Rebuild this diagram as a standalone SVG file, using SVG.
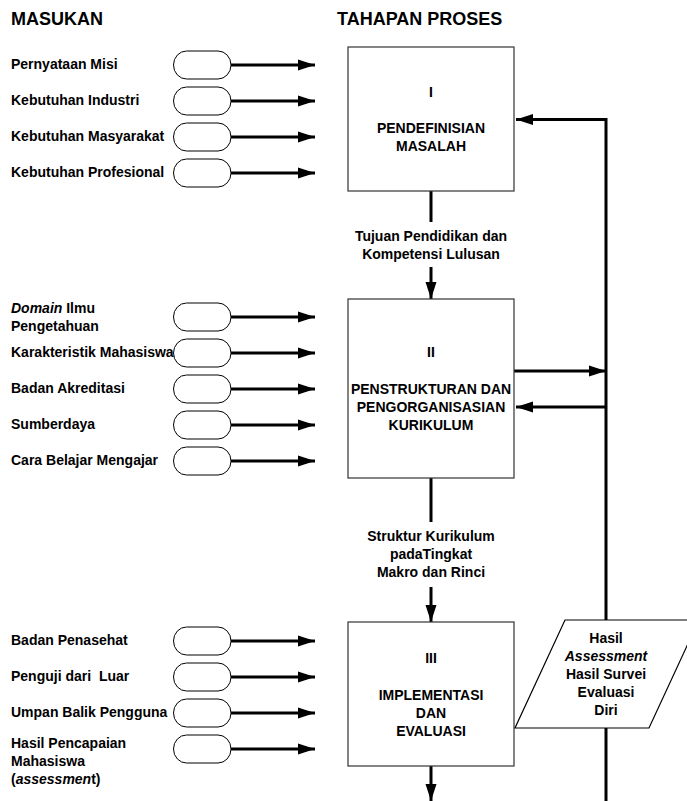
<svg xmlns="http://www.w3.org/2000/svg" width="687" height="801" viewBox="0 0 687 801">
<style>
text{font-family:"Liberation Sans",Arial,sans-serif;font-weight:bold;fill:#000;}
.t{font-size:18px;}
.l{font-size:14px;}
.c{font-size:14px;text-anchor:middle;}
.box{fill:#fff;stroke:#333;stroke-width:1.2;}
.pill{fill:#fff;stroke:#000;stroke-width:1;}
.ln{fill:none;stroke:#000;stroke-width:3;}
.arr{fill:none;stroke:#000;stroke-width:3;marker-end:url(#ah);}
</style>
<defs>
<marker id="ah" markerUnits="userSpaceOnUse" markerWidth="17" markerHeight="12" refX="17" refY="6" orient="auto">
<path d="M0,0.5 L17,6 L0,11.5 z" fill="#000"/>
</marker>
</defs>
<rect width="687" height="801" fill="#fff"/>
<g id="titles">
<text class="t" x="11" y="25">MASUKAN</text>
<text class="t" x="337" y="25">TAHAPAN PROSES</text>
</g>
<g id="connectors">
<line class="arr" x1="231" y1="65" x2="315" y2="65"/>
<line class="arr" x1="231" y1="101" x2="315" y2="101"/>
<line class="arr" x1="231" y1="137" x2="315" y2="137"/>
<line class="arr" x1="231" y1="173" x2="315" y2="173"/>
<line class="arr" x1="231" y1="317" x2="315" y2="317"/>
<line class="arr" x1="231" y1="353" x2="315" y2="353"/>
<line class="arr" x1="231" y1="389" x2="315" y2="389"/>
<line class="arr" x1="231" y1="425" x2="315" y2="425"/>
<line class="arr" x1="231" y1="461" x2="315" y2="461"/>
<line class="arr" x1="231" y1="641" x2="315" y2="641"/>
<line class="arr" x1="231" y1="677" x2="315" y2="677"/>
<line class="arr" x1="231" y1="713" x2="315" y2="713"/>
<line class="arr" x1="231" y1="749" x2="315" y2="749"/>
<line class="ln" x1="431" y1="191" x2="431" y2="222"/>
<line class="arr" x1="431" y1="267" x2="431" y2="299"/>
<line class="ln" x1="431" y1="478" x2="431" y2="522"/>
<line class="arr" x1="431" y1="587" x2="431" y2="622"/>
<line class="arr" x1="431" y1="766" x2="431" y2="801"/>
<polyline class="arr" points="606,620 606,119.5 516,119.5"/>
<line class="ln" x1="606" y1="728" x2="606" y2="801"/>
<line class="arr" x1="514" y1="371" x2="606" y2="371"/>
<line class="arr" x1="606" y1="407" x2="516" y2="407"/>
</g>
<g id="inputs1">
<rect class="pill" x="173.5" y="51" width="57.5" height="28" rx="13" ry="14"/>
<rect class="pill" x="173.5" y="87" width="57.5" height="28" rx="13" ry="14"/>
<rect class="pill" x="173.5" y="123" width="57.5" height="28" rx="13" ry="14"/>
<rect class="pill" x="173.5" y="159" width="57.5" height="28" rx="13" ry="14"/>
<text class="l" x="11" y="69">Pernyataan Misi</text>
<text class="l" x="11" y="105">Kebutuhan Industri</text>
<text class="l" x="11" y="141">Kebutuhan Masyarakat</text>
<text class="l" x="11" y="177">Kebutuhan Profesional</text>
</g>
<g id="inputs2">
<rect class="pill" x="173.5" y="303" width="57.5" height="28" rx="13" ry="14"/>
<rect class="pill" x="173.5" y="339" width="57.5" height="28" rx="13" ry="14"/>
<rect class="pill" x="173.5" y="375" width="57.5" height="28" rx="13" ry="14"/>
<rect class="pill" x="173.5" y="411" width="57.5" height="28" rx="13" ry="14"/>
<rect class="pill" x="173.5" y="447" width="57.5" height="28" rx="13" ry="14"/>
<text class="l" x="11" y="313"><tspan font-style="italic">Domain</tspan> Ilmu</text>
<text class="l" x="11" y="331">Pengetahuan</text>
<text class="l" x="11" y="357">Karakteristik Mahasiswa</text>
<text class="l" x="11" y="393">Badan Akreditasi</text>
<text class="l" x="11" y="429">Sumberdaya</text>
<text class="l" x="11" y="465">Cara Belajar Mengajar</text>
</g>
<g id="inputs3">
<rect class="pill" x="173.5" y="627" width="57.5" height="28" rx="13" ry="14"/>
<rect class="pill" x="173.5" y="663" width="57.5" height="28" rx="13" ry="14"/>
<rect class="pill" x="173.5" y="699" width="57.5" height="28" rx="13" ry="14"/>
<rect class="pill" x="173.5" y="735" width="57.5" height="28" rx="13" ry="14"/>
<text class="l" x="11" y="645">Badan Penasehat</text>
<text class="l" x="11" y="681" xml:space="preserve">Penguji dari  Luar</text>
<text class="l" x="11" y="717">Umpan Balik Pengguna</text>
<text class="l" x="11" y="748">Hasil Pencapaian</text>
<text class="l" x="11" y="766">Mahasiswa</text>
<text class="l" x="11" y="784">(<tspan font-style="italic">assessmen</tspan>t)</text>
</g>
<g id="box1">
<rect class="box" x="348" y="47" width="166" height="144"/>
<text class="c" x="431" y="97">I</text>
<text class="c" x="431" y="133">PENDEFINISIAN</text>
<text class="c" x="431" y="151">MASALAH</text>
</g>
<g id="label1">
<text class="c" x="431" y="241">Tujuan Pendidikan dan</text>
<text class="c" x="431" y="259">Kompetensi Lulusan</text>
</g>
<g id="box2">
<rect class="box" x="348" y="299" width="166" height="179"/>
<text class="c" x="431" y="357">II</text>
<text class="c" x="431" y="394">PENSTRUKTURAN DAN</text>
<text class="c" x="431" y="412">PENGORGANISASIAN</text>
<text class="c" x="431" y="430">KURIKULUM</text>
</g>
<g id="label2">
<text class="c" x="431" y="541">Struktur Kurikulum</text>
<text class="c" x="431" y="559">padaTingkat</text>
<text class="c" x="431" y="577">Makro dan Rinci</text>
</g>
<g id="box3">
<rect class="box" x="348" y="622" width="166" height="144"/>
<text class="c" x="431" y="663">III</text>
<text class="c" x="431" y="700">IMPLEMENTASI</text>
<text class="c" x="431" y="718">DAN</text>
<text class="c" x="431" y="736">EVALUASI</text>
</g>
<g id="result">
<polygon class="box" points="565,620 699,620 649,728 515,728" style="stroke:#000"/>
<text class="c" x="606" y="643">Hasil</text>
<text class="c" x="606" y="661" font-style="italic">Assessment</text>
<text class="c" x="606" y="679">Hasil Survei</text>
<text class="c" x="606" y="697">Evaluasi</text>
<text class="c" x="606" y="715">Diri</text>
</g>
</svg>
